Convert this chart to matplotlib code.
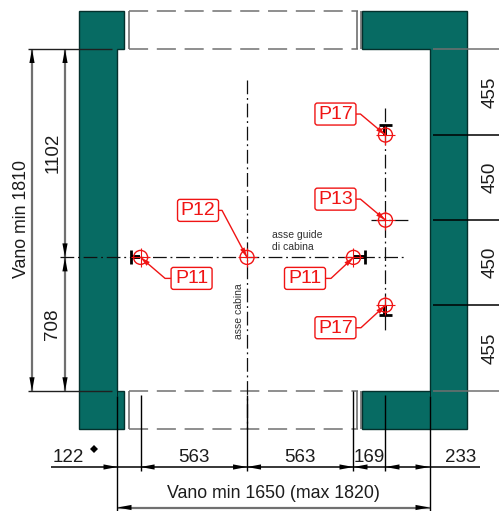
import numpy as np
import matplotlib
matplotlib.use("Agg")
import matplotlib.pyplot as plt
from matplotlib.patches import Circle, Polygon, FancyBboxPatch

# quote values in mm
x_dims = [122, 563, 563, 169]
x_dim_last = 233
y_left_dims = [1102, 708]
y_right_dims = [455, 450, 450, 455]
vano_w_label = "Vano min 1650 (max 1820)"
vano_h_label = "Vano min 1810"
wall_thick = 204
stub_left = 37
stub_right = 356

tags = ["P11", "P12", "P11", "P17", "P13", "P17"]

S = 0.1891  # px per mm
X0, Y0 = 117.5, 49.0
W, H = 499, 511

VANO_W = sum(x_dims) + x_dim_last
VANO_H = sum(y_left_dims)
TEAL = "#076b63"
GREY = "#707070"
RED = "#f01414"

plt.rcParams["font.family"] = ["Liberation Sans", "DejaVu Sans"]

fig = plt.figure(figsize=(W / 100, H / 100), dpi=100)
ax = fig.add_axes([0, 0, 1, 1])
ax.set_xlim(-X0 / S, (W - X0) / S)
ax.set_ylim((H - Y0) / S, -Y0 / S)
ax.axis("off")

xs = np.cumsum([0] + x_dims + [x_dim_last])
ys_l = np.cumsum([0] + y_left_dims)
ys_r = np.cumsum([0] + y_right_dims)
x_guide, x_cab, x_guide2, x_r = xs[1], xs[2], xs[3], xs[4]
y_c = ys_l[1]


def px(v):
    return v / S


def hline(y, x1, x2, **kw):
    kw.setdefault("color", "k")
    kw.setdefault("lw", 0.9)
    ax.plot([x1, x2], [y, y], solid_capstyle="butt", **kw)


def vline(x, y1, y2, **kw):
    kw.setdefault("color", "k")
    kw.setdefault("lw", 0.9)
    ax.plot([x, x], [y1, y2], solid_capstyle="butt", **kw)


def arrow(x, y, dx, dy):
    # filled head, tip on x,y pointing along dx,dy
    L, w = px(14), px(2.6)
    pts = [(x, y), (x - dx * L - dy * w, y - dy * L - dx * w), (x - dx * L + dy * w, y - dy * L + dx * w)]
    ax.add_patch(Polygon(pts, closed=True, fc="k", ec="none", zorder=6))


# walls
wall_l = [(-wall_thick, -px(38)), (stub_left, -px(38)), (stub_left, 0), (0, 0), (0, VANO_H),
          (stub_left, VANO_H), (stub_left, VANO_H + px(38)), (-wall_thick, VANO_H + px(38))]
wall_r = [(VANO_W + wall_thick - 4, -px(38)), (VANO_W - stub_right, -px(38)), (VANO_W - stub_right, 0),
          (VANO_W, 0), (VANO_W, VANO_H), (VANO_W - stub_right, VANO_H),
          (VANO_W - stub_right, VANO_H + px(38)), (VANO_W + wall_thick - 4, VANO_H + px(38))]
for w in (wall_l, wall_r):
    ax.add_patch(Polygon(w, closed=True, fc=TEAL, ec="#04302c", lw=1.0, zorder=2))

# door opening, dashed
for y in (-px(38), 0, VANO_H, VANO_H + px(38)):
    ax.plot([px(12), VANO_W - px(72)], [y, y], color=GREY, lw=1.1,
            dashes=(12.5, 5.7), zorder=1)
for x in (px(12), VANO_W - px(73), VANO_W - px(69)):
    for y1, y2 in ((-px(38), 0), (VANO_H, VANO_H + px(38))):
        vline(x, y1, y2, color=GREY, lw=1.2, zorder=1)

# left vertical dims
for x_d in (px(32) - X0 / S, px(65) - X0 / S):
    vline(x_d, 0, VANO_H, color=GREY, lw=1.6, zorder=3)
    arrow(x_d, 0, 0, -1)
    arrow(x_d, VANO_H, 0, 1)
arrow(px(65) - X0 / S, y_c, 0, 1)
arrow(px(65) - X0 / S, y_c, 0, -1)
for y in (0, VANO_H):
    hline(y, px(28) - X0 / S, px(-5), color="#202020", lw=1.0, zorder=4)
    hline(y, px(-5), px(-1), color="#202020", lw=0.5, zorder=1)

# right vertical extension lines
for i, y in enumerate(ys_r):
    c = GREY if i in (0, 4) else "k"
    hline(y, VANO_W + px(3), (W - X0) / S, color=c, lw=1.1, zorder=4)

# bottom dims
y_d1 = px(467 - Y0)
y_d2 = px(507.5 - Y0)
hline(y_d1, px(51) - X0 / S, px(480) - X0 / S, lw=1.1, zorder=4)
hline(y_d2, 0, VANO_W, color=GREY, lw=1.6, zorder=4)
vline(0, VANO_H + px(5), px(H - Y0), lw=1.0, zorder=5)
vline(VANO_W, VANO_H + px(5), px(H - Y0), lw=1.0, zorder=5)
vline(0, VANO_H, VANO_H + px(5), lw=0.5, zorder=5)
vline(VANO_W, VANO_H, VANO_H + px(5), lw=0.5, zorder=5)
for x in (x_guide, x_cab, x_guide2, x_r):
    top = VANO_H if x == x_guide2 else VANO_H + px(4)
    vline(x, top, y_d1 + px(4), lw=1.0, zorder=5)
arrow(0, y_d1, 1, 0)
arrow(x_guide, y_d1, -1, 0)
arrow(x_cab, y_d1, 1, 0)
arrow(x_cab, y_d1, -1, 0)
arrow(x_guide2, y_d1, 1, 0)
arrow(x_guide2, y_d1, -1, 0)
arrow(x_r, y_d1, -1, 0)
arrow(VANO_W, y_d1, 1, 0)
arrow(0, y_d2, -1, 0)
arrow(VANO_W, y_d2, 1, 0)

# centre lines
cl = dict(color="#101010", lw=0.9, dashes=(11, 3, 1.5, 3), zorder=3)
ax.plot([x_cab, x_cab], [px(31), VANO_H + px(38)], **cl)
ax.plot([px(-57), VANO_W - px(25)], [y_c, y_c], **cl)
ax.plot([x_r, x_r], [ys_r[1] - px(27), ys_r[3] + px(27)], **cl)
ax.plot([x_r - px(14), x_r + px(25)], [ys_r[2], ys_r[2]], **cl)

# guide rails (T sections)
rail = dict(color="k", zorder=6)
vline(x_guide - px(10), y_c - px(7), y_c + px(7), lw=2.0, **rail)
hline(y_c, x_guide - px(10), x_guide - px(1), lw=2.8, **rail)
vline(x_guide2 + px(11.5), y_c - px(7), y_c + px(7), lw=2.0, **rail)
hline(y_c, x_guide2 + px(1), x_guide2 + px(11.5), lw=2.8, **rail)
hline(ys_r[1] - px(10), x_r - px(6.5), x_r + px(6.5), lw=2.0, **rail)
vline(x_r, ys_r[1] - px(10), ys_r[1], lw=2.8, **rail)
hline(ys_r[3] + px(10), x_r - px(6.5), x_r + px(6.5), lw=2.0, **rail)
vline(x_r, ys_r[3], ys_r[3] + px(10), lw=2.8, **rail)

# target points with their tags
points = [(x_guide, y_c), (x_cab, y_c), (x_guide2, y_c),
          (x_r, ys_r[1]), (x_r, ys_r[2]), (x_r, ys_r[3])]
# box centre and elbow offsets, in px from the point
box_off = [(51, 21), (-49, -47), (-48.5, 21), (-50, -21), (-50, -21), (-50, 22.5)]
elbow = [(24.5, 21), (-25, -47), (-22.5, 21), (-25, -21), (-25, -21), (-24.5, 22.5)]
for (xp, yp), tag, b, e in zip(points, tags, box_off, elbow):
    ax.add_patch(Circle((xp, yp), px(7), fc="none", ec=RED, lw=1.0, zorder=7))
    hline(yp, xp - px(9.5), xp + px(9.5), color=RED, lw=0.8, zorder=7)
    vline(xp, yp - px(9.5), yp + px(9.5), color=RED, lw=0.8, zorder=7)
    ex, ey = xp + px(e[0]), yp + px(e[1])
    bx, by = xp + px(b[0]), yp + px(b[1])
    ax.plot([bx, ex, xp], [by, ey, yp], color=RED, lw=1.0, zorder=7)
    d = np.hypot(xp - ex, yp - ey)
    ux, uy = (xp - ex) / d, (yp - ey) / d
    L, w = px(10), px(2.5)
    ax.add_patch(Polygon([(xp, yp), (xp - ux * L - uy * w, yp - uy * L + ux * w),
                          (xp - ux * L + uy * w, yp - uy * L - ux * w)],
                         closed=True, fc=RED, ec="none", zorder=7))
    bw, bh = px(41), px(22)
    ax.add_patch(FancyBboxPatch((bx - bw / 2, by - bh / 2), bw, bh,
                                boxstyle=f"round,pad=0,rounding_size={px(2.5)}",
                                fc="white", ec=RED, lw=1.0, zorder=8))
    ax.text(bx, by + px(0.5), tag, color=RED, fontsize=14, ha="center", va="center", zorder=9)

# dim texts
dim_c = "#1c1c1c"
tx = dict(color=dim_c, fontsize=13.5, ha="center", va="center", zorder=9)
tx_long = dict(tx, fontsize=12.8)
y_txt = px(457 - Y0)
ax.text(px(68) - X0 / S, y_txt, str(x_dims[0]), **tx)
ax.text(x_guide + x_dims[1] / 2, y_txt, str(x_dims[1]), **tx)
ax.text(x_cab + x_dims[2] / 2, y_txt, str(x_dims[2]), **tx)
ax.text(px(369) - X0 / S, y_txt, str(x_dims[3]), **tx)
ax.text(px(461) - X0 / S, y_txt, str(x_dim_last), **tx)
ax.text(VANO_W / 2 + px(-0.5), px(493.5 - Y0), vano_w_label, **tx_long)
ax.text(px(22) - X0 / S, px(219 - Y0), vano_h_label, rotation=90, **tx_long)
ax.text(px(53) - X0 / S, ys_l[0] + y_left_dims[0] / 2, str(y_left_dims[0]), rotation=90, **tx)
ax.text(px(53) - X0 / S, ys_l[1] + y_left_dims[1] / 2, str(y_left_dims[1]), rotation=90, **tx)
for y_a, y_b, v in zip(ys_r[:-1], ys_r[1:], y_right_dims):
    ax.text(px(490) - X0 / S, (y_a + y_b) / 2, str(v), rotation=90, **tx)

ax.plot([px(94.5) - X0 / S], [px(449 - Y0)], marker="D", ms=3.6, color="k", mew=0, zorder=9)

small = dict(color="#303030", fontsize=7.5, zorder=9)
ax.text(px(272) - X0 / S, px(241 - Y0), "asse guide\ndi cabina", ha="left", va="center", linespacing=1.15, **small)
ax.text(px(239.5) - X0 / S, px(311.5 - Y0), "asse cabina", rotation=90, ha="center", va="center", **small)

fig.savefig("out.png", dpi=100)
